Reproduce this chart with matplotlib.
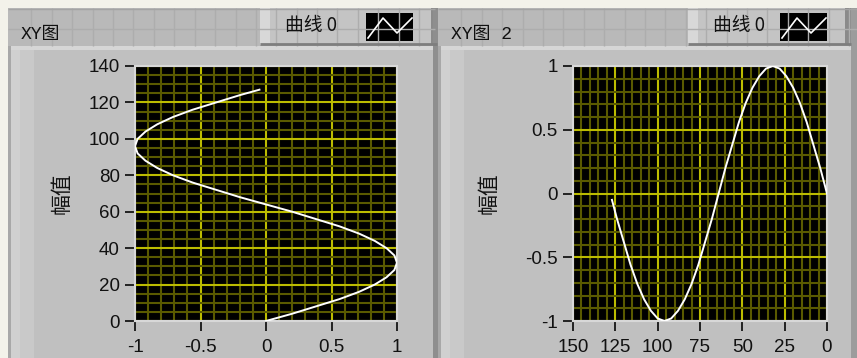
import matplotlib
matplotlib.use("Agg")
import matplotlib.pyplot as plt
from matplotlib.patches import Rectangle
from matplotlib.ticker import MultipleLocator, FixedLocator, FixedFormatter

plt.rcParams['axes.unicode_minus'] = False

# ---- data: one period of the acquired waveform (sample index, amplitude) ----
sample_index = [0, 4, 8, 12, 16, 20, 24, 28, 32, 36, 40, 44, 48, 52, 56, 60,
                64, 68, 72, 76, 80, 84, 88, 92, 96, 100, 104, 108, 112, 116,
                120, 124, 127]
amplitude = [0.00, 0.20, 0.38, 0.56, 0.71, 0.83, 0.92, 0.98, 1.00, 0.98, 0.92,
             0.83, 0.71, 0.56, 0.38, 0.20, 0.00, -0.20, -0.38, -0.56, -0.71,
             -0.83, -0.92, -0.98, -1.00, -0.98, -0.92, -0.83, -0.71, -0.56,
             -0.38, -0.20, -0.05]

left_xticks = [-1, -0.5, 0, 0.5, 1]
left_xlabels = ["-1", "-0.5", "0", "0.5", "1"]
left_yticks = [0, 20, 40, 60, 80, 100, 120, 140]
left_ylabels = ["0", "20", "40", "60", "80", "100", "120", "140"]

right_xticks = [150, 125, 100, 75, 50, 25, 0]
right_xlabels = ["150", "125", "100", "75", "50", "25", "0"]
right_yticks = [-1, -0.5, 0, 0.5, 1]
right_ylabels = ["-1", "-0.5", "0", "0.5", "1"]

panel_titles = ["XY图", "XY图 2"]
legend_label = "曲线 0"
axis_label = "幅值"

W, H = 857, 358
fig = plt.figure(figsize=(W / 100, H / 100), dpi=100)
fig.patch.set_facecolor("#f3f2ea")

# pixel-space canvas for the front-panel chrome
bg = fig.add_axes([0, 0, 1, 1], zorder=0)
bg.set_xlim(0, W)
bg.set_ylim(H, 0)
bg.axis("off")


def box(x0, y0, x1, y1, color, **kw):
    bg.add_patch(Rectangle((x0, y0), x1 - x0, y1 - y0, facecolor=color,
                           edgecolor="none", **kw))


def hline(y, x0, x1, color, lw=1.0):
    bg.plot([x0, x1], [y, y], color=color, lw=lw, solid_capstyle="butt")


def vline(x, y0, y1, color, lw=1.0):
    bg.plot([x, x], [y0, y1], color=color, lw=lw, solid_capstyle="butt")


cjk = ["Noto Sans CJK SC", "DejaVu Sans"]
title_font = ["Liberation Mono", "Noto Sans CJK SC"]
num_font = ["Liberation Sans", "DejaVu Sans"]


def panel(x0, x1, title, legend_x0, legend_x1):
    # title bar with the editor grid
    box(x0, 8, x1, 46, "#b9b9b9")
    gx = x0 + 23.5
    while gx < x1:
        vline(gx, 8, 46, "#adadad", 1.0)
        gx += 20.4
    hline(29, x0, x1, "#adadad", 1.0)
    hline(8.5, x0, x1, "#a4a4a4", 1.0)
    # body
    box(x0, 46, x1, H, "#c0c0c0")
    box(x0, 46, x1, 50, "#d6d6d6")
    box(x0, 46, x0 + 3, H, "#a8a8a8")
    box(x0 + 3, 50, x0 + 12, H, "#d0d0d0")
    box(x0 + 12, 50, x0 + 26, H, "#c9c9c9")
    # title text
    bg.text(x0 + 13, 34, title, family=title_font, fontsize=13,
            va="center", ha="left", color="#111111")
    # legend plate
    box(legend_x0, 8, legend_x1, 45, "#c4c4c4")
    box(legend_x0, 8, legend_x0 + 10, 45, "#d8d8d8")
    box(legend_x1 - 6, 8, legend_x1, 45, "#8a8a8a")
    hline(43.5, legend_x0, legend_x1, "#7e7e7e", 2.0)
    bg.text(legend_x0 + 25, 26, legend_label, family=cjk, fontsize=13.5,
            va="center", ha="left", color="#111111")
    sx0 = legend_x1 - 71
    box(sx0, 13, sx0 + 47, 41, "#000000")
    bg.plot([sx0 + 2, sx0 + 17, sx0 + 31, sx0 + 46],
            [38, 18, 33, 18], color="white", lw=1.2)


panel(8, 435, panel_titles[0], 260, 437)
panel(438, W, panel_titles[1], 688, 851)
box(433, 8, 438, H, "#8e8e8e")
box(851, 8, W, H, "#9c9c9c")

MAJOR = "#bcbc00"
MINOR = "#5a5a00"


def style(ax):
    ax.set_facecolor("black")
    for s in ax.spines.values():
        s.set_color("#d8d8d8")
        s.set_linewidth(1.5)
    ax.grid(which="minor", color=MINOR, lw=1.5)
    ax.grid(which="major", color=MAJOR, lw=1.5)
    ax.set_axisbelow(True)
    ax.tick_params(which="major", direction="out", length=7, width=1.4,
                   color="#222222", pad=4, labelsize=13.5,
                   labelcolor="#111111")
    ax.tick_params(axis="x", which="major", pad=6)
    ax.tick_params(which="minor", length=0)
    for lab in ax.get_xticklabels() + ax.get_yticklabels():
        lab.set_family(num_font)


def add_axes_px(x0, y0, x1, y1):
    return fig.add_axes([x0 / W, 1 - y1 / H, (x1 - x0) / W, (y1 - y0) / H],
                        zorder=2)


# left graph: amplitude on x, sample index on y
ax1 = add_axes_px(135, 66, 397, 321)
ax1.plot(amplitude, sample_index, color="white", lw=1.4, zorder=3)
ax1.set_xlim(-1, 1)
ax1.set_ylim(0, 140)
ax1.xaxis.set_major_locator(FixedLocator(left_xticks))
ax1.xaxis.set_major_formatter(FixedFormatter(left_xlabels))
ax1.yaxis.set_major_locator(FixedLocator(left_yticks))
ax1.yaxis.set_major_formatter(FixedFormatter(left_ylabels))
ax1.xaxis.set_minor_locator(MultipleLocator(0.1))
ax1.yaxis.set_minor_locator(MultipleLocator(5))
style(ax1)
ax1.set_ylabel(axis_label, family=cjk, fontsize=15, color="#111111")
ax1.yaxis.set_label_coords((73 - 135) / 262, 0.5)

# right graph: sample index on a reversed x axis, amplitude on y
ax2 = add_axes_px(573, 66, 827, 321)
ax2.plot(sample_index, amplitude, color="white", lw=1.4, zorder=3)
ax2.set_xlim(150, 0)
ax2.set_ylim(-1, 1)
ax2.xaxis.set_major_locator(FixedLocator(right_xticks))
ax2.xaxis.set_major_formatter(FixedFormatter(right_xlabels))
ax2.yaxis.set_major_locator(FixedLocator(right_yticks))
ax2.yaxis.set_major_formatter(FixedFormatter(right_ylabels))
ax2.xaxis.set_minor_locator(MultipleLocator(5))
ax2.yaxis.set_minor_locator(MultipleLocator(0.1))
style(ax2)
ax2.set_ylabel(axis_label, family=cjk, fontsize=15, color="#111111")
ax2.yaxis.set_label_coords((500 - 573) / 254, 0.5)

fig.savefig("out.png", dpi=100, facecolor=fig.get_facecolor())
